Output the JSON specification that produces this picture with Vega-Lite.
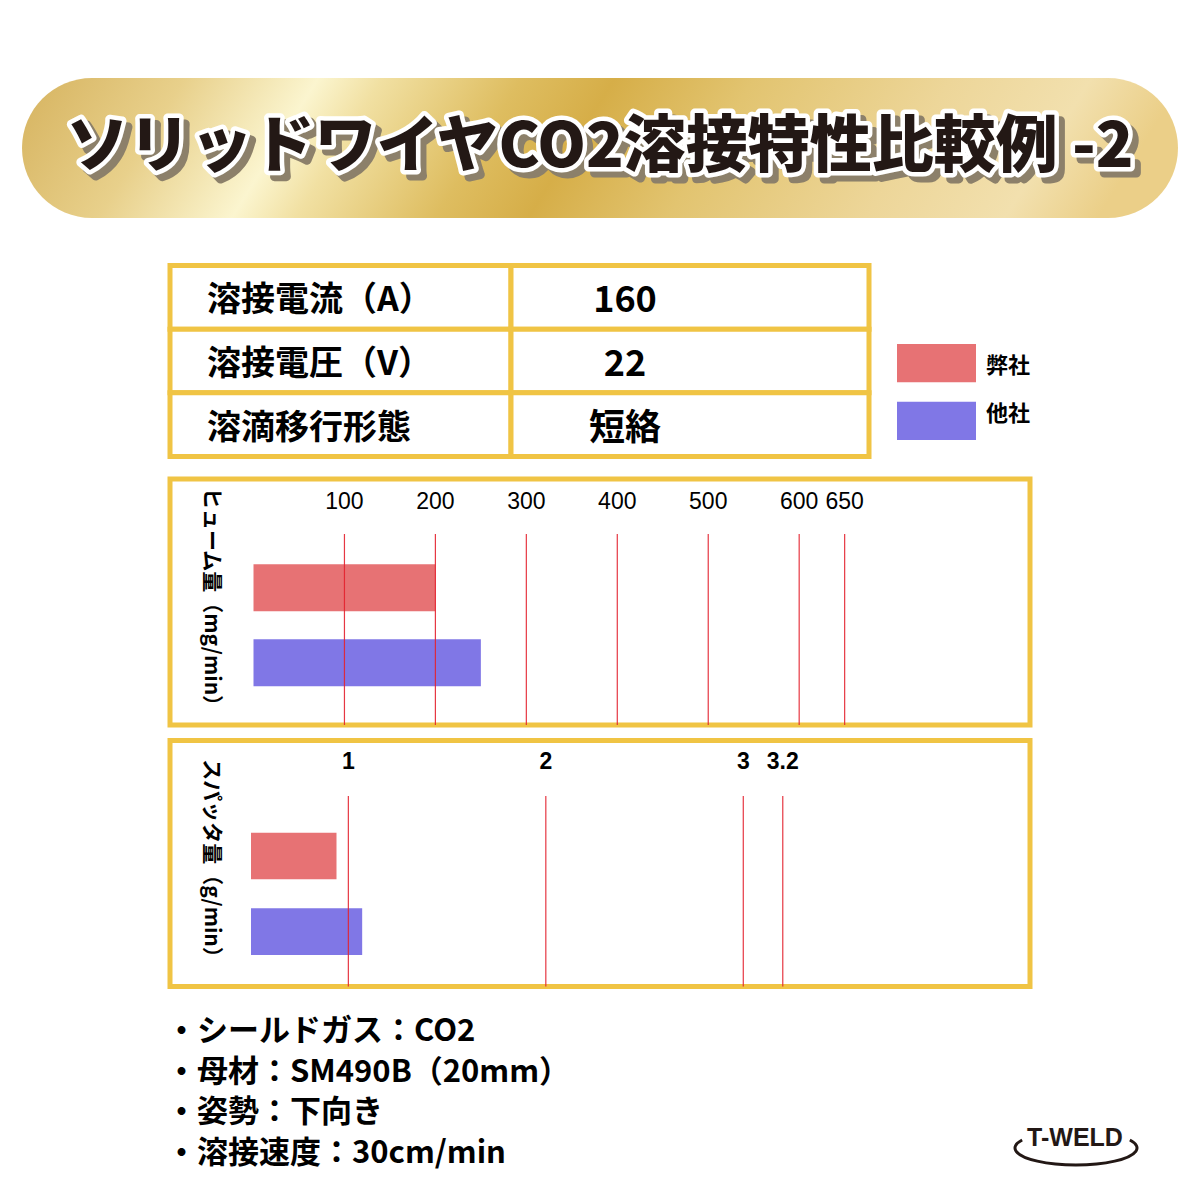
{
  "$schema": "https://vega.github.io/schema/vega-lite/v6.json",
  "background": "white",
  "padding": {"left": 22, "top": 78, "right": 0, "bottom": 0},
  "config": {"view": {"stroke": null}, "font": "Noto Sans CJK JP"},
  "datasets": {
    "title": [{"title": "ソリッドワイヤCO2溶接特性比較例 -2"}],
    "conditions": [
      {"row": 1, "item": "溶接電流（A）", "value": "160"},
      {"row": 2, "item": "溶接電圧（V）", "value": "22"},
      {"row": 3, "item": "溶滴移行形態", "value": "短絡"}
    ],
    "companies": [{"company": "弊社"}, {"company": "他社"}],
    "fumeLabel": [{"label": "ヒューム量（mg/min）"}],
    "spatterLabel": [{"label": "スパッタ量（g/min）"}],
    "fume": [{"company": "弊社", "fume": 200}, {"company": "他社", "fume": 250}],
    "fumeTicks": [{"tick": 100}, {"tick": 200}, {"tick": 300}, {"tick": 400}, {"tick": 500}, {"tick": 600}, {"tick": 650}],
    "spatter": [{"company": "弊社", "spatter": 0.94}, {"company": "他社", "spatter": 1.07}],
    "spatterTicks": [{"tick": 1}, {"tick": 2}, {"tick": 3}, {"tick": 3.2}],
    "notes": [
      {"n": 1, "note": "・シールドガス：CO2"},
      {"n": 2, "note": "・母材：SM490B（20mm）"},
      {"n": 3, "note": "・姿勢：下向き"},
      {"n": 4, "note": "・溶接速度：30cm/min"}
    ],
    "logo": [{"brand": "T-WELD"}]
  },
  "vconcat": [
    {
      "width": 1156,
      "height": 140,
      "view": {
        "cornerRadius": 70,
        "stroke": null,
        "fill": {
          "gradient": "linear", "x1": 0, "y1": 0, "x2": 1, "y2": 0.075,
          "stops": [
            {"offset": 0, "color": "#D6B35F"},
            {"offset": 0.14, "color": "#E8D08B"},
            {"offset": 0.255, "color": "#FBF5CF"},
            {"offset": 0.31, "color": "#F1E0A2"},
            {"offset": 0.43, "color": "#DEBD60"},
            {"offset": 0.51, "color": "#D6AE48"},
            {"offset": 0.63, "color": "#E2C470"},
            {"offset": 0.8, "color": "#EDD699"},
            {"offset": 0.92, "color": "#F2E0AE"},
            {"offset": 1, "color": "#EBCF88"}
          ]
        }
      },
      "data": {"name": "title"},
      "layer": [
        {"mark": {"type": "text", "fontSize": 62, "fontWeight": 900, "dx": 6, "dy": 6, "fill": "#8C806A", "stroke": "#8C806A", "strokeWidth": 9, "strokeJoin": "round"}, "encoding": {"text": {"field": "title"}}},
        {"mark": {"type": "text", "fontSize": 62, "fontWeight": 900, "fill": "white", "stroke": "white", "strokeWidth": 9, "strokeJoin": "round"}, "encoding": {"text": {"field": "title"}}},
        {"mark": {"type": "text", "fontSize": 62, "fontWeight": 900, "fill": "#231815"}, "encoding": {"text": {"field": "title"}}}
      ]
    },
    {
      "width": 860,
      "height": 230,
      "resolve": {"scale": {"y": "independent", "color": "independent"}},
      "layer": [
        {"data": {"name": "conditions"},
         "mark": {"type": "rect", "x": 0, "x2": 341, "fill": "white", "stroke": "#F0C444", "strokeWidth": 5},
         "encoding": {"y": {"field": "row", "type": "ordinal", "axis": null, "scale": {"range": [32, 223], "paddingInner": 0, "paddingOuter": 0}}}},
        {"data": {"name": "conditions"},
         "mark": {"type": "rect", "x": 341, "x2": 699, "fill": "white", "stroke": "#F0C444", "strokeWidth": 5},
         "encoding": {"y": {"field": "row", "type": "ordinal", "axis": null, "scale": {"range": [32, 223], "paddingInner": 0, "paddingOuter": 0}}}},
        {"data": {"name": "conditions"},
         "mark": {"type": "text", "x": 37, "dy": 4, "align": "left", "fontSize": 34, "fontWeight": "bold", "color": "#000000"},
         "encoding": {"y": {"field": "row", "type": "ordinal", "axis": null, "scale": {"range": [32, 223], "paddingInner": 0, "paddingOuter": 0}}, "text": {"field": "item"}}},
        {"data": {"name": "conditions"},
         "mark": {"type": "text", "x": 455, "dy": 4, "align": "center", "fontSize": 36, "fontWeight": "bold", "color": "#000000"},
         "encoding": {"y": {"field": "row", "type": "ordinal", "axis": null, "scale": {"range": [32, 223], "paddingInner": 0, "paddingOuter": 0}}, "text": {"field": "value"}}},
        {"data": {"name": "companies"},
         "mark": {"type": "rect", "x": 727, "x2": 806},
         "encoding": {
           "y": {"field": "company", "type": "nominal", "axis": null, "scale": {"domain": ["弊社", "他社"], "range": [110.5, 206.5], "paddingInner": 0.336, "paddingOuter": 0}},
           "color": {"field": "company", "type": "nominal", "legend": null, "scale": {"domain": ["弊社", "他社"], "range": ["#E77274", "#8077E6"]}}
         }},
        {"data": {"name": "companies"},
         "mark": {"type": "text", "x": 816, "dy": -2, "align": "left", "fontSize": 22, "fontWeight": "bold", "color": "#000000"},
         "encoding": {
           "y": {"field": "company", "type": "nominal", "axis": null, "scale": {"domain": ["弊社", "他社"], "range": [110.5, 206.5], "paddingInner": 0.336, "paddingOuter": 0}},
           "text": {"field": "company"}
         }}
      ]
    },
    {
      "width": 860,
      "height": 246,
      "view": {"stroke": "#F0C444", "strokeWidth": 5, "fill": "white"},
      "layer": [
        {"data": {"name": "fume"}, "mark": {"type": "bar"},
         "encoding": {
           "y": {"field": "company", "type": "nominal", "axis": null, "scale": {"domain": ["弊社", "他社"], "paddingInner": 0.373, "paddingOuter": 0.827, "align": 0.688}},
           "x": {"field": "fume", "type": "quantitative", "axis": null, "scale": {"domain": [-2.75, 853.8], "range": [81, 860], "zero": false, "nice": false}},
           "color": {"field": "company", "type": "nominal", "legend": null, "scale": {"domain": ["弊社", "他社"], "range": ["#E77274", "#8077E6"]}}
         }},
        {"data": {"name": "fumeTicks"}, "mark": {"type": "rule", "y": 55, "y2": "height", "color": "#E3212D", "strokeWidth": 1.2, "opacity": 0.9},
         "encoding": {"x": {"field": "tick", "type": "quantitative", "axis": null, "scale": {"domain": [-2.75, 853.8], "range": [81, 860], "zero": false, "nice": false}}}},
        {"data": {"name": "fumeTicks"}, "mark": {"type": "text", "y": 23, "fontSize": 23, "font": "Liberation Sans", "color": "#000000"},
         "encoding": {
           "x": {"field": "tick", "type": "quantitative", "axis": null, "scale": {"domain": [-2.75, 853.8], "range": [81, 860], "zero": false, "nice": false}},
           "text": {"field": "tick", "type": "quantitative"}
         }},
        {"data": {"name": "fumeLabel"}, "mark": {"type": "rule", "x": 81, "y": 0, "y2": "height", "color": "#F0C444", "strokeWidth": 4.5}, "encoding": {}},
        {"data": {"name": "fumeLabel"}, "mark": {"type": "text", "x": 41, "angle": 90, "fontSize": 21, "fontWeight": "bold", "color": "#000000"},
         "encoding": {"text": {"field": "label"}}}
      ]
    },
    {
      "width": 860,
      "height": 246,
      "view": {"stroke": "#F0C444", "strokeWidth": 5, "fill": "white"},
      "layer": [
        {"data": {"name": "spatter"}, "mark": {"type": "bar"},
         "encoding": {
           "y": {"field": "company", "type": "nominal", "axis": null, "scale": {"domain": ["弊社", "他社"], "paddingInner": 0.384, "paddingOuter": 0.818, "align": 0.745}},
           "x": {"field": "spatter", "type": "quantitative", "axis": null, "scale": {"domain": [0.507, 4.452], "range": [81, 860], "zero": false, "nice": false, "clamp": true}},
           "color": {"field": "company", "type": "nominal", "legend": null, "scale": {"domain": ["弊社", "他社"], "range": ["#E77274", "#8077E6"]}}
         }},
        {"data": {"name": "spatterTicks"}, "mark": {"type": "rule", "y": 55.5, "y2": "height", "color": "#E3212D", "strokeWidth": 1.2, "opacity": 0.9},
         "encoding": {"x": {"field": "tick", "type": "quantitative", "axis": null, "scale": {"domain": [0.507, 4.452], "range": [81, 860], "zero": false, "nice": false, "clamp": true}}}},
        {"data": {"name": "spatterTicks"}, "mark": {"type": "text", "y": 21, "fontSize": 23, "font": "Liberation Sans", "fontWeight": "bold", "color": "#000000"},
         "encoding": {
           "x": {"field": "tick", "type": "quantitative", "axis": null, "scale": {"domain": [0.507, 4.452], "range": [81, 860], "zero": false, "nice": false, "clamp": true}},
           "text": {"field": "tick", "type": "quantitative"}
         }},
        {"data": {"name": "spatterLabel"}, "mark": {"type": "rule", "x": 81, "y": 0, "y2": "height", "color": "#F0C444", "strokeWidth": 4.5}, "encoding": {}},
        {"data": {"name": "spatterLabel"}, "mark": {"type": "text", "x": 41, "angle": 90, "fontSize": 21, "fontWeight": "bold", "color": "#000000"},
         "encoding": {"text": {"field": "label"}}}
      ]
    },
    {
      "width": 860,
      "height": 180,
      "layer": [
        {"data": {"name": "notes"}, "mark": {"type": "text", "x": -4, "align": "left", "fontSize": 31, "fontWeight": "bold", "color": "#000000"},
         "encoding": {
           "y": {"field": "n", "type": "ordinal", "axis": null, "scale": {"range": [10, 172], "paddingInner": 0, "paddingOuter": 0}},
           "text": {"field": "note"}
         }},
        {"data": {"name": "logo"}, "mark": {"type": "text", "x": 905, "y": 136, "fontSize": 25, "font": "Liberation Sans", "fontWeight": "bold", "color": "#231815"},
         "encoding": {"text": {"field": "brand"}}},
        {"data": {"name": "logo"}, "mark": {"type": "point", "x": 906, "y": 146, "shape": "M-0.883,-0.131A1,0.279 0 1 0 0.883,-0.131", "size": 14884, "filled": false, "stroke": "#231815", "strokeWidth": 3, "opacity": 1},
         "encoding": {}}
      ]
    }
  ],
  "spacing": 15.5,
  "center": true,
  "bounds": "flush"
}
